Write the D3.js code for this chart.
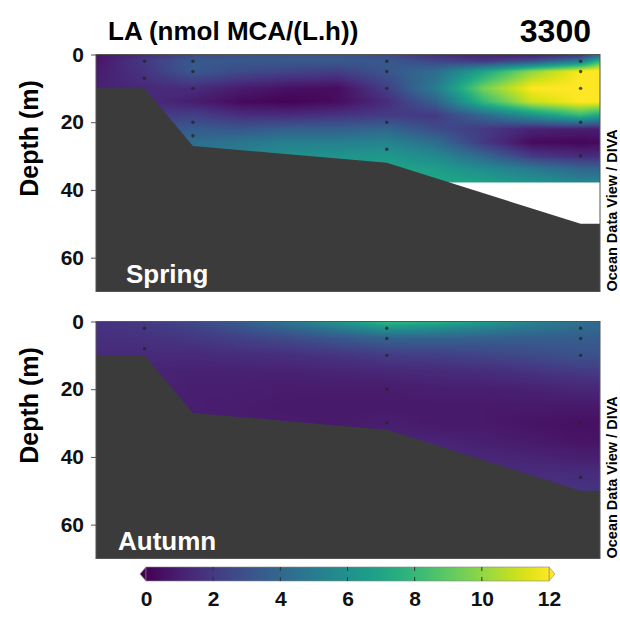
<!DOCTYPE html>
<html>
<head>
<meta charset="utf-8">
<script src="https://cdn.jsdelivr.net/npm/d3@7"></script>
<style>
  body { margin: 0; background: #fff; }
  svg { display: block; font-family: "Liberation Sans", Arial, sans-serif; font-weight: bold; }
</style>
</head>
<body>
<div id="chart"></div>
<script>
// LA section plots, spring + autumn, station 3300

const distances = [0, 5, 10, 15, 20, 25, 30, 35, 40, 45, 50, 52];

// spring field, one column per distance, rows = springDepths
const springDepths = [0, 2, 5, 10, 14, 18, 22, 26, 30, 34, 38];
const springLA = [
  [0.6, 0.7, 0.9, 1.1, 1.2, 1.2, 1.2, 1.2, 1.2, 1.2, 1.2],
  [1.5, 2.0, 1.8, 1.4, 1.5, 2.0, 3.0, 3.5, 4.0, 4.0, 4.0],
  [2.7, 3.3, 3.3, 1.5, 1.0, 2.3, 3.4, 4.3, 4.8, 5.0, 5.0],
  [3.0, 3.3, 2.7, 0.9, 0.3, 1.6, 3.2, 4.7, 5.3, 5.5, 5.5],
  [3.2, 3.3, 2.4, 0.5, 0.1, 1.5, 3.6, 5.2, 6.0, 6.2, 6.2],
  [3.2, 3.3, 2.2, 0.4, 0.4, 1.8, 3.6, 5.2, 6.2, 6.6, 6.6],
  [2.7, 3.3, 3.2, 2.2, 1.5, 2.1, 3.9, 5.4, 6.4, 7.0, 7.2],
  [1.5, 2.6, 4.2, 5.0, 3.6, 2.0, 2.8, 4.3, 5.7, 6.7, 7.2],
  [1.0, 2.0, 7.0, 9.5, 8.0, 4.0, 2.0, 2.0, 4.0, 5.9, 6.9],
  [0.8, 3.0, 10.0, 12.0, 11.0, 6.0, 1.2, 0.3, 2.0, 5.0, 6.2],
  [1.5, 5.0, 12.0, 12.0, 12.0, 8.0, 1.0, 0.2, 1.5, 4.0, 5.6],
  [4.0, 8.0, 12.5, 12.5, 12.0, 7.0, 1.0, 0.3, 1.5, 4.0, 5.6]
];

// autumn field
const autumnDepths = [0, 2, 5, 10, 15, 20, 25, 30, 35, 40, 45, 50];
const autumnLA = [
  [1.7, 1.7, 1.6, 1.4, 1.3, 1.3, 1.3, 1.3, 1.3, 1.3, 1.3, 1.3],
  [2.0, 1.9, 1.7, 1.4, 1.2, 1.2, 1.2, 1.2, 1.2, 1.2, 1.2, 1.2],
  [2.6, 2.3, 1.9, 1.4, 1.1, 1.0, 1.0, 1.0, 1.0, 1.0, 1.0, 1.0],
  [3.5, 3.0, 2.3, 1.5, 1.1, 1.0, 0.9, 0.9, 0.9, 0.9, 0.9, 0.9],
  [4.8, 3.8, 2.7, 1.6, 1.1, 0.9, 0.8, 0.9, 0.9, 0.9, 0.9, 0.9],
  [6.3, 4.9, 3.2, 1.8, 1.2, 0.9, 0.8, 0.8, 1.0, 1.0, 1.0, 1.0],
  [8.0, 6.2, 3.7, 2.1, 1.3, 0.9, 0.8, 1.0, 1.2, 1.2, 1.2, 1.2],
  [7.6, 5.8, 3.7, 2.2, 1.4, 1.0, 0.8, 0.8, 1.2, 1.4, 1.4, 1.4],
  [6.6, 5.2, 3.6, 2.4, 1.5, 1.0, 0.8, 0.8, 1.0, 1.3, 1.5, 1.5],
  [5.4, 4.6, 3.5, 2.7, 1.7, 1.1, 0.8, 0.6, 0.8, 1.2, 1.5, 1.7],
  [4.4, 4.1, 3.5, 3.0, 2.0, 1.3, 0.8, 0.5, 0.6, 1.0, 1.5, 1.8],
  [4.2, 4.0, 3.5, 3.0, 2.0, 1.3, 0.8, 0.5, 0.6, 1.0, 1.5, 1.8]
];

// bottom profile
const bottomDist = [0, 5, 10, 30, 50, 52];
const bottomDepth = [10, 10, 27, 32, 50, 50];

// sample depths per station
const springSamples = [
  { dist: 5, depths: [2, 7] },
  { dist: 10, depths: [2, 5, 10, 20, 24] },
  { dist: 30, depths: [2, 5, 10, 20, 28] },
  { dist: 50, depths: [2, 5, 10, 20, 30] }
];
const autumnSamples = [
  { dist: 5, depths: [2, 8] },
  { dist: 30, depths: [2, 5, 10, 20, 30] },
  { dist: 50, depths: [2, 5, 10, 30, 46] }
];

const depthTicks = [0, 20, 40, 60];
const colorTicks = [0, 2, 4, 6, 8, 10, 12];

const width = 620, height = 617;
const plotLeft = 96, plotRight = 600, plotH = 237;

const svg = d3.select("#chart").append("svg")
  .attr("width", width)
  .attr("height", height);

const x = d3.scaleLinear().domain([0, 52]).range([plotLeft, plotRight]);
const color = v => d3.interpolateViridis(Math.max(0, Math.min(1, v / 12)));

// bilinear lookup on the read grid (nonuniform spacing)
function lookup(grid, depths, d, z) {
  let i = d3.bisectRight(distances, d) - 1;
  i = Math.max(0, Math.min(distances.length - 2, i));
  let j = d3.bisectRight(depths, z) - 1;
  j = Math.max(0, Math.min(depths.length - 2, j));
  const tx = Math.max(0, Math.min(1, (d - distances[i]) / (distances[i + 1] - distances[i])));
  const tz = Math.max(0, Math.min(1, (z - depths[j]) / (depths[j + 1] - depths[j])));
  const a = grid[i][j] * (1 - tz) + grid[i][j + 1] * tz;
  const b = grid[i + 1][j] * (1 - tz) + grid[i + 1][j + 1] * tz;
  return a * (1 - tx) + b * tx;
}

function panel(top, grid, depths, maxField, samples, label) {
  const y = d3.scaleLinear().domain([0, 70]).range([top, top + plotH]);
  const g = svg.append("g");

  // field raster
  const w = plotRight - plotLeft, h = plotH;
  const canvas = document.createElement("canvas");
  canvas.width = w; canvas.height = h;
  const ctx = canvas.getContext("2d");
  const img = ctx.createImageData(w, h);
  for (let py = 0; py < h; py++) {
    const z = y.invert(top + py + 0.5);
    if (z > maxField) continue;
    for (let px = 0; px < w; px++) {
      const d = x.invert(plotLeft + px + 0.5);
      const c = d3.rgb(color(lookup(grid, depths, d, z)));
      const k = (py * w + px) * 4;
      img.data[k] = c.r; img.data[k + 1] = c.g; img.data[k + 2] = c.b; img.data[k + 3] = 255;
    }
  }
  ctx.putImageData(img, 0, 0);
  g.append("image")
    .attr("x", plotLeft).attr("y", top)
    .attr("width", w).attr("height", h)
    .attr("href", canvas.toDataURL());

  // sample dots
  samples.forEach(s => {
    g.selectAll(null).data(s.depths).enter().append("circle")
      .attr("cx", x(s.dist))
      .attr("cy", d => y(d))
      .attr("r", 1.7)
      .attr("fill", "#262626")
      .attr("opacity", 0.8);
  });

  // bottom
  const bottom = bottomDist.map((d, i) => [d, bottomDepth[i]]);
  g.append("path")
    .datum(bottom)
    .attr("d", d3.area().x(p => x(p[0])).y0(y(70)).y1(p => y(p[1])))
    .attr("fill", "#3b3b3b");

  // frame
  g.append("rect")
    .attr("x", plotLeft).attr("y", top)
    .attr("width", w).attr("height", h)
    .attr("fill", "none")
    .attr("stroke", "#555").attr("stroke-width", 1);

  const ax = g.append("g")
    .attr("transform", `translate(${plotLeft},0)`)
    .call(d3.axisLeft(y).tickValues(depthTicks).tickSize(5).tickPadding(7));
  ax.select(".domain").remove();
  ax.selectAll("line").attr("stroke", "#555");
  ax.selectAll("text")
    .attr("font-size", 21).attr("font-weight", "bold")
    .attr("font-family", "Liberation Sans, Arial, sans-serif")
    .attr("fill", "#111");

  g.append("text")
    .attr("transform", `translate(38,${top + 84}) rotate(-90)`)
    .attr("text-anchor", "middle")
    .attr("font-size", 25)
    .text("Depth (m)");

  g.append("text")
    .attr("x", label === "Spring" ? 126 : 118)
    .attr("y", top + plotH - 9)
    .attr("fill", "#fff")
    .attr("font-size", 26)
    .text(label);

  g.append("text")
    .attr("transform", `translate(617,${top + plotH}) rotate(-90)`)
    .attr("font-size", 14.5)
    .text("Ocean Data View / DIVA");
}

panel(54.5, springLA, springDepths, 37.7, springSamples, "Spring");
panel(321.5, autumnLA, autumnDepths, 70, autumnSamples, "Autumn");

// titles
svg.append("text")
  .attr("x", 108).attr("y", 40)
  .attr("font-size", 26)
  .text("LA (nmol MCA/(L.h))");
svg.append("text")
  .attr("x", 591).attr("y", 42)
  .attr("text-anchor", "end")
  .attr("font-size", 32)
  .text("3300");

// colour bar
const cb = d3.scaleLinear().domain([0, 12]).range([146, 549]);
const barTop = 567, barH = 14;
const defs = svg.append("defs");
const grad = defs.append("linearGradient").attr("id", "vir");
d3.range(0, 1.0001, 0.05).forEach(t => {
  grad.append("stop").attr("offset", t).attr("stop-color", d3.interpolateViridis(t));
});
svg.append("path")
  .attr("d", `M${cb(0)},${barTop} L${cb(0) - 6},${barTop + barH / 2} L${cb(0)},${barTop + barH} Z`)
  .attr("fill", color(0)).attr("stroke", "#888").attr("stroke-width", 0.6);
svg.append("path")
  .attr("d", `M${cb(12)},${barTop} L${cb(12) + 6},${barTop + barH / 2} L${cb(12)},${barTop + barH} Z`)
  .attr("fill", color(12)).attr("stroke", "#888").attr("stroke-width", 0.6);
svg.append("rect")
  .attr("x", cb(0)).attr("y", barTop)
  .attr("width", cb(12) - cb(0)).attr("height", barH)
  .attr("fill", "url(#vir)")
  .attr("stroke", "#888").attr("stroke-width", 0.6);

svg.append("g").selectAll("line").data(colorTicks.slice(1, -1)).enter().append("line")
  .attr("x1", d => cb(d)).attr("x2", d => cb(d))
  .attr("y1", barTop).attr("y2", barTop + 4)
  .attr("stroke", "#333");
svg.append("g").selectAll("line").data(colorTicks.slice(1, -1)).enter().append("line")
  .attr("x1", d => cb(d)).attr("x2", d => cb(d))
  .attr("y1", barTop + barH - 4).attr("y2", barTop + barH)
  .attr("stroke", "#333");

const cax = svg.append("g")
  .attr("transform", `translate(0,${barTop + barH})`)
  .call(d3.axisBottom(cb).tickValues(colorTicks).tickSize(0).tickPadding(10));
cax.select(".domain").remove();
cax.selectAll("text")
  .attr("font-size", 21).attr("font-weight", "bold")
  .attr("font-family", "Liberation Sans, Arial, sans-serif")
  .attr("fill", "#111");
</script>
</body>
</html>
